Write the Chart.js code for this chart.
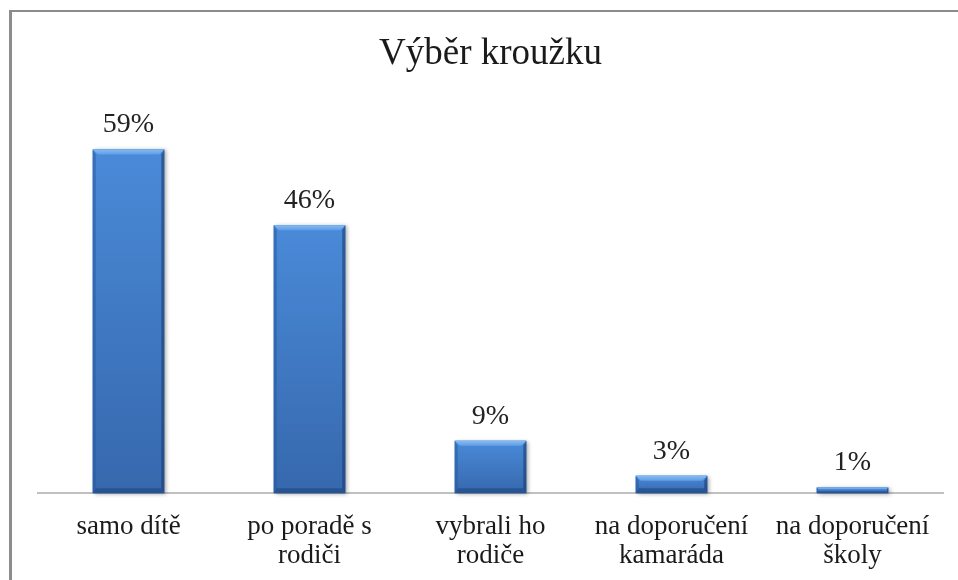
<!DOCTYPE html>
<html>
<head>
<meta charset="utf-8">
<script src="https://cdn.jsdelivr.net/npm/chart.js@4.4.0/dist/chart.umd.min.js"></script>
<style>
  html, body { margin: 0; padding: 0; background: #fff; }
  #wrap { position: relative; width: 958px; height: 580px; }
</style>
</head>
<body>
<div id="wrap"><canvas id="kruzky"></canvas></div>
<script>
const categories = [
  ["samo dítě"],
  ["po poradě s", "rodiči"],
  ["vybrali ho", "rodiče"],
  ["na doporučení", "kamaráda"],
  ["na doporučení", "školy"],
];
const shares = [59, 46, 9, 3, 1];
const chartTitle = "Výběr kroužku";

// frame: only left and top edges are visible in the picture
const framePlugin = {
  id: "frame",
  beforeDraw(chart) {
    const c = chart.ctx;
    c.save();
    c.fillStyle = "#ffffff";
    c.fillRect(0, 0, chart.width, chart.height);
    c.strokeStyle = "#8c8c8c";
    c.lineWidth = 3;
    c.beginPath();
    c.moveTo(10.5, 10);
    c.lineTo(10.5, chart.height);
    c.stroke();
    c.lineWidth = 2;
    c.beginPath();
    c.moveTo(9, 11);
    c.lineTo(chart.width, 11);
    c.stroke();
    c.restore();
  },
};

// bevelled look of the office bars, drawn over each bar element
const bevelPlugin = {
  id: "bevel",
  afterDatasetsDraw(chart) {
    const c = chart.ctx;
    const meta = chart.getDatasetMeta(0);
    meta.data.forEach((bar) => {
      const p = bar.getProps(["x", "y", "base", "width"], true);
      const l = p.x - p.width / 2;
      const r = p.x + p.width / 2;
      const t = p.y;
      const b = p.base;
      const h = b - t;
      const bv = Math.min(5, h / 3);
      c.save();
      // shadow + body
      c.shadowColor = "rgba(0,0,0,0.35)";
      c.shadowBlur = 4;
      c.shadowOffsetX = 2;
      c.shadowOffsetY = 1;
      const g = c.createLinearGradient(0, t, 0, b);
      g.addColorStop(0, "#4a8ad8");
      g.addColorStop(1, "#3668ad");
      c.fillStyle = g;
      c.fillRect(l, t, r - l, h);
      c.shadowColor = "transparent";
      // top bevel
      const tg = c.createLinearGradient(0, t, 0, t + bv);
      tg.addColorStop(0, "#86bcf4");
      tg.addColorStop(1, "#5f9de6");
      c.fillStyle = tg;
      c.beginPath();
      c.moveTo(l, t); c.lineTo(r, t); c.lineTo(r - bv, t + bv); c.lineTo(l + bv, t + bv);
      c.closePath(); c.fill();
      // left bevel
      c.fillStyle = "rgba(40,90,160,0.55)";
      c.beginPath();
      c.moveTo(l, t); c.lineTo(l + bv * 0.6, t + bv); c.lineTo(l + bv * 0.6, b - bv); c.lineTo(l, b);
      c.closePath(); c.fill();
      // right bevel
      c.fillStyle = "rgba(25,60,115,0.6)";
      c.beginPath();
      c.moveTo(r, t); c.lineTo(r - bv * 0.6, t + bv); c.lineTo(r - bv * 0.6, b - bv); c.lineTo(r, b);
      c.closePath(); c.fill();
      // bottom bevel
      c.fillStyle = "rgba(30,70,130,0.6)";
      c.beginPath();
      c.moveTo(l, b); c.lineTo(l + bv * 0.6, b - bv); c.lineTo(r - bv * 0.6, b - bv); c.lineTo(r, b);
      c.closePath(); c.fill();
      c.restore();
    });
  },
};

// percentage above each bar
const valueLabels = {
  id: "valueLabels",
  afterDatasetsDraw(chart) {
    const c = chart.ctx;
    const meta = chart.getDatasetMeta(0);
    c.save();
    c.font = "28px 'Liberation Serif'";
    c.fillStyle = "#222222";
    c.textAlign = "center";
    c.textBaseline = "alphabetic";
    meta.data.forEach((bar, i) => {
      c.fillText(shares[i] + "%", bar.x, bar.y - 17);
    });
    c.restore();
  },
};

const ctx = document.getElementById("kruzky").getContext("2d");
const kruzkyChart = new Chart(ctx, {
  type: "bar",
  data: {
    labels: categories,
    datasets: [
      {
        data: shares,
        backgroundColor: "#3f7bc8",
        borderWidth: 0,
        categoryPercentage: 1,
        barPercentage: 0.395,
      },
    ],
  },
  options: {
    responsive: true,
    maintainAspectRatio: false,
    animation: false,
    layout: {
      padding: { left: 38, right: 15, top: 32, bottom: -9 },
    },
    scales: {
      x: {
        grid: { display: false, drawTicks: false },
        border: { display: true, color: "#c0c0c0", width: 2 },
        ticks: {
          color: "#1a1a1a",
          padding: 19,
          maxRotation: 0,
          autoSkip: false,
          font: { family: "'Liberation Serif'", size: 27, lineHeight: 1.07 },
        },
      },
      y: {
        display: false,
        min: 0,
        max: 70,
      },
    },
    plugins: {
      legend: { display: false },
      tooltip: { enabled: false },
      title: {
        display: true,
        text: chartTitle,
        color: "#1a1a1a",
        font: { family: "'Liberation Serif'", size: 37, weight: "normal", lineHeight: 1.2 },
        padding: { top: 0, bottom: 9 },
      },
    },
  },
  plugins: [framePlugin, bevelPlugin, valueLabels],
});
</script>
</body>
</html>
